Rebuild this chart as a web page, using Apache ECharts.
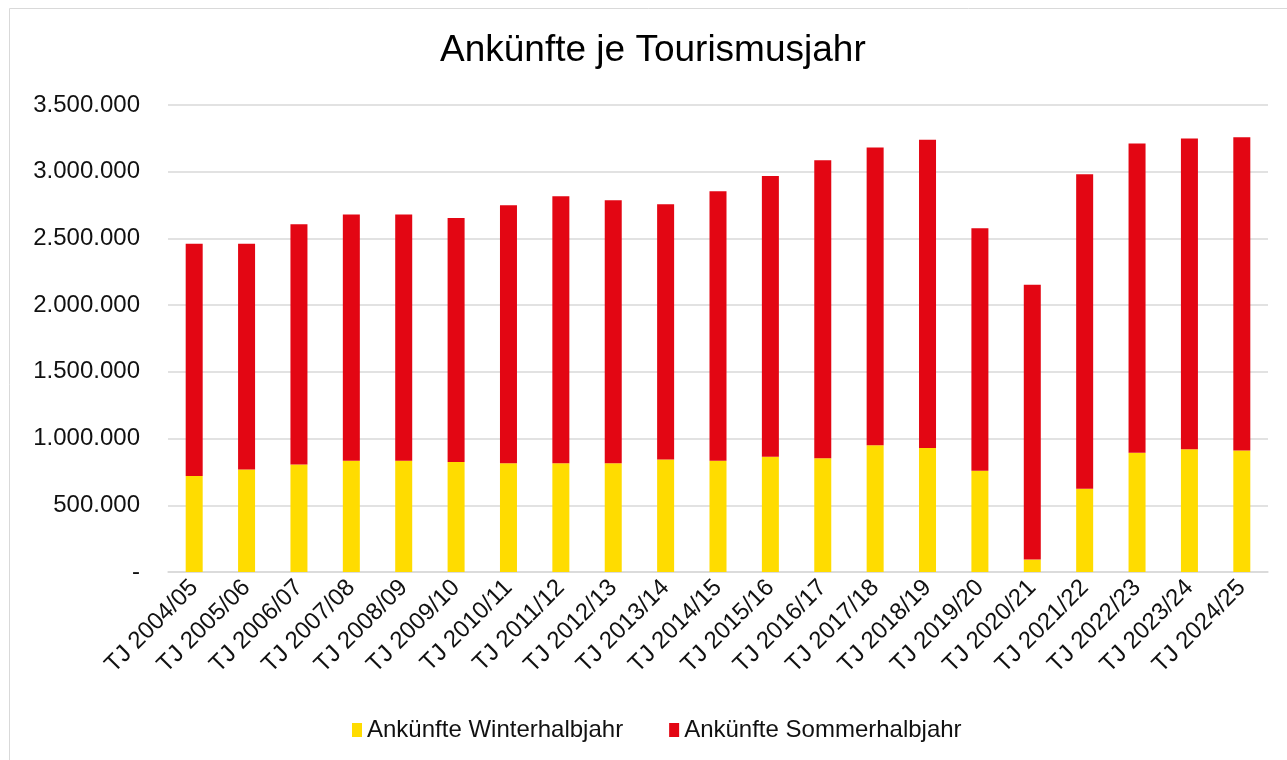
<!DOCTYPE html>
<html>
<head>
<meta charset="utf-8">
<title>Ankünfte je Tourismusjahr</title>
<script src="https://cdn.jsdelivr.net/npm/echarts@6/dist/echarts.min.js"></script>
<style>
  html, body { margin: 0; padding: 0; background: #fff; }
  #chart { width: 1287px; height: 760px; }
</style>
</head>
<body>
<div id="chart"></div>
<script>
// Tourismusjahre (x-Achse)
const categories = [
  'TJ 2004/05', 'TJ 2005/06', 'TJ 2006/07', 'TJ 2007/08', 'TJ 2008/09', 'TJ 2009/10',
  'TJ 2010/11', 'TJ 2011/12', 'TJ 2012/13', 'TJ 2013/14', 'TJ 2014/15', 'TJ 2015/16',
  'TJ 2016/17', 'TJ 2017/18', 'TJ 2018/19', 'TJ 2019/20', 'TJ 2020/21', 'TJ 2021/22',
  'TJ 2022/23', 'TJ 2023/24', 'TJ 2024/25'
]

// Ankünfte Winterhalbjahr (unterer Teil)
const winterValues = [
  720000, 768000, 806000, 833000, 833000, 825000, 815000, 815000, 815000, 843000, 833000,
  863000, 853000, 950000, 930000, 758000, 93000, 623000, 893000, 920000, 910000
]

// Ankünfte Sommerhalbjahr (oberer Teil)
const summerValues = [
  1740000, 1692000, 1800000, 1847000, 1847000, 1828000, 1934000, 2001000, 1971000, 1913000,
  2021000, 2105000, 2233000, 2231000, 2309000, 1818000, 2060000, 2358000, 2318000, 2328000,
  2349000
]

const seriesNames = ['Ankünfte Winterhalbjahr', 'Ankünfte Sommerhalbjahr']

const FONT = '"Liberation Sans", Arial, sans-serif'

// Tausenderpunkte wie in Excel, 0 als "-"
const formatNumber = (v) => {
  if (v === 0) return '-'
  return String(v).replace(/\B(?=(\d{3})+(?!\d))/g, '.')
}

const chart = echarts.init(document.getElementById('chart'))

const option = {
  backgroundColor: '#fff',
  animation: false,
  textStyle: { fontFamily: FONT },
  title: {
    text: 'Ankünfte je Tourismusjahr',
    left: 435,
    top: 27,
    textStyle: { fontFamily: FONT, fontSize: 37, fontWeight: 'normal', color: '#000' },
  },
  // Rahmen der Diagrammfläche
  graphic: [
    {
      type: 'rect',
      shape: { x: 9.5, y: 8.5, width: 1300, height: 800 },
      style: { fill: 'none', stroke: '#d9d9d9', lineWidth: 1 },
      silent: true,
    },
  ],
  legend: {
    data: seriesNames,
    left: 347,
    top: 713,
    itemWidth: 10,
    itemHeight: 14,
    itemGap: 46,
    icon: 'rect',
    textStyle: { fontFamily: FONT, fontSize: 24, color: '#111' },
  },
  grid: {
    left: 168,
    right: 19,
    top: 105,
    bottom: 188,
    containLabel: false,
  },
  xAxis: {
    type: 'category',
    data: categories,
    axisTick: { show: false },
    axisLine: { lineStyle: { color: '#d9d9d9', width: 1.5 } },
    axisLabel: {
      rotate: 45,
      margin: 12,
      interval: 0,
      fontFamily: FONT,
      fontSize: 24,
      color: '#111',
    },
  },
  yAxis: {
    type: 'value',
    min: 0,
    max: 3500000,
    interval: 500000,
    axisLine: { show: false },
    axisTick: { show: false },
    splitLine: { lineStyle: { color: '#d9d9d9', width: 1.5 } },
    axisLabel: {
      margin: 28,
      fontFamily: FONT,
      fontSize: 24,
      color: '#111',
      formatter: formatNumber,
    },
  },
  series: [
    {
      name: seriesNames[0],
      type: 'bar',
      stack: 'total',
      barWidth: 17,
      data: winterValues,
      itemStyle: { color: '#ffdc00' },
    },
    {
      name: seriesNames[1],
      type: 'bar',
      stack: 'total',
      barWidth: 17,
      data: summerValues,
      itemStyle: { color: '#e30613' },
    },
  ],
}

chart.setOption(option)
</script>
</body>
</html>
